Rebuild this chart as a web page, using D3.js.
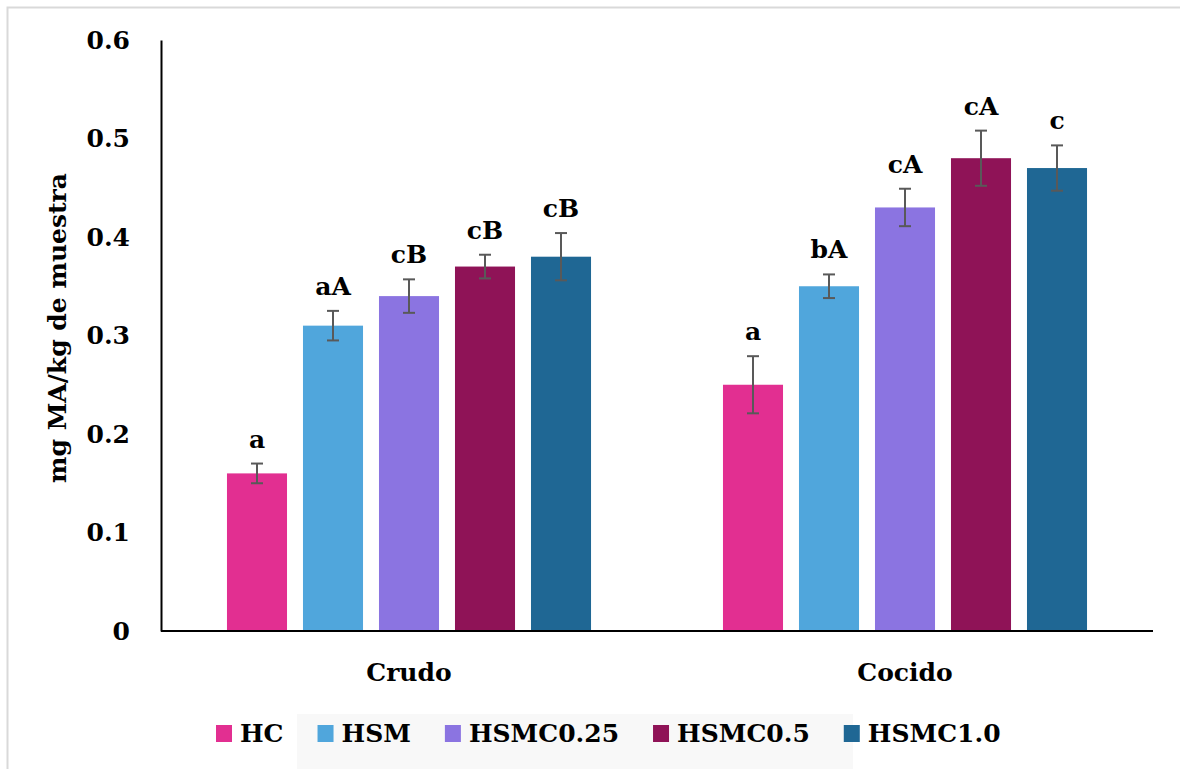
<!DOCTYPE html>
<html>
<head>
<meta charset="utf-8">
<script src="https://cdn.jsdelivr.net/npm/d3@7/dist/d3.min.js"></script>
<style>
  body { margin: 0; background: #fff; }
  svg { display: block; }
  text { font-family: "DejaVu Serif", serif; font-weight: bold; fill: #000; }
</style>
</head>
<body>
<svg id="chart" width="1180" height="769"></svg>
<script>
var categories = ["Crudo", "Cocido"];
var series = ["HC", "HSM", "HSMC0.25", "HSMC0.5", "HSMC1.0"];
var colours = ["#e22f91", "#50a6dc", "#8b74e1", "#8f1357", "#1f6794"];

// mean values per series, in category order (Crudo, Cocido)
var crudoValues = [0.16, 0.31, 0.34, 0.37, 0.38];
var cocidoValues = [0.25, 0.35, 0.43, 0.48, 0.47];
var crudoErrors = [0.010, 0.015, 0.017, 0.012, 0.024];
var cocidoErrors = [0.029, 0.012, 0.019, 0.028, 0.023];
var crudoLetters = ["a", "aA", "cB", "cB", "cB"];
var cocidoLetters = ["a", "bA", "cA", "cA", "c"];
var yTicks = [0, 0.1, 0.2, 0.3, 0.4, 0.5, 0.6];

var rows = [];
categories.forEach(function(cat, ci) {
  var vals = ci == 0 ? crudoValues : cocidoValues;
  var errs = ci == 0 ? crudoErrors : cocidoErrors;
  var lets = ci == 0 ? crudoLetters : cocidoLetters;
  series.forEach(function(s, si) {
    rows.push({cat: cat, key: s, value: vals[si], err: errs[si], letter: lets[si]});
  });
});

var svg = d3.select("#chart");

// light frame of the original figure
svg.append("path")
  .attr("d", "M7.5,769 V7.5 H1180")
  .attr("fill", "none")
  .attr("stroke", "#d9d9d9")
  .attr("stroke-width", 2);

// faint watermark patch behind the legend
svg.append("rect").attr("x", 297).attr("y", 714).attr("width", 556).attr("height", 55)
  .attr("fill", "#f8f8f8");

var plotLeft = 161, plotRight = 1153, plotTop = 40, plotBottom = 631;

var x = d3.scaleBand().domain(categories).range([plotLeft, plotRight]).padding(0);
var xs = d3.scaleBand().domain(series).range([0, x.bandwidth()])
  .paddingInner(0.21).paddingOuter(0.868);
var y = d3.scaleLinear().domain([0, 0.6]).range([plotBottom, plotTop]);
var color = d3.scaleOrdinal().domain(series).range(colours);

// y axis
var yAxis = svg.append("g")
  .attr("transform", "translate(" + plotLeft + ",0)")
  .call(d3.axisLeft(y).tickValues(yTicks).tickSize(0).tickPadding(31)
    .tickFormat(function(d) { return d == 0 ? "0" : d3.format(".1f")(d); }));
yAxis.select(".domain").attr("stroke", "#000").attr("stroke-width", 2);
yAxis.selectAll("text").style("font-size", "25px").style("font-family", "DejaVu Serif");

// bars
svg.selectAll("rect.bar")
  .data(rows)
  .enter()
  .append("rect")
  .attr("class", "bar")
  .attr("x", function(d) { return x(d.cat) + xs(d.key); })
  .attr("y", function(d) { return y(d.value); })
  .attr("width", xs.bandwidth())
  .attr("height", function(d) { return y(0) - y(d.value); })
  .attr("fill", function(d) { return color(d.key); });

// error bars
var eb = svg.selectAll("g.err")
  .data(rows)
  .enter()
  .append("g")
  .attr("class", "err")
  .attr("stroke", "#595959")
  .attr("stroke-width", 2);
eb.append("line")
  .attr("x1", function(d) { return x(d.cat) + xs(d.key) + xs.bandwidth() / 2; })
  .attr("x2", function(d) { return x(d.cat) + xs(d.key) + xs.bandwidth() / 2; })
  .attr("y1", function(d) { return y(d.value + d.err); })
  .attr("y2", function(d) { return y(d.value - d.err); });
[1, -1].forEach(function(sign) {
  eb.append("line")
    .attr("x1", function(d) { return x(d.cat) + xs(d.key) + xs.bandwidth() / 2 - 6; })
    .attr("x2", function(d) { return x(d.cat) + xs(d.key) + xs.bandwidth() / 2 + 6; })
    .attr("y1", function(d) { return y(d.value + sign * d.err); })
    .attr("y2", function(d) { return y(d.value + sign * d.err); });
});

// significance letters
svg.selectAll("text.letter")
  .data(rows)
  .enter()
  .append("text")
  .attr("class", "letter")
  .attr("x", function(d) { return x(d.cat) + xs(d.key) + xs.bandwidth() / 2; })
  .attr("y", function(d) { return y(d.value + d.err) - 16; })
  .attr("text-anchor", "middle")
  .style("font-size", "25px")
  .text(function(d) { return d.letter; });

// x axis line
svg.append("line")
  .attr("x1", plotLeft).attr("x2", plotRight)
  .attr("y1", plotBottom).attr("y2", plotBottom)
  .attr("stroke", "#000").attr("stroke-width", 2);

// category labels
svg.selectAll("text.cat")
  .data(categories)
  .enter()
  .append("text")
  .attr("class", "cat")
  .attr("x", function(d) { return x(d) + x.bandwidth() / 2; })
  .attr("y", 681)
  .attr("text-anchor", "middle")
  .style("font-size", "25px")
  .text(function(d) { return d; });

// y axis title
svg.append("text")
  .attr("transform", "translate(66,328) rotate(-90)")
  .attr("text-anchor", "middle")
  .style("font-size", "25px")
  .text("mg MA/kg de muestra");

// legend
var legend = svg.append("g").attr("transform", "translate(216,733)");
var lx = 0;
series.forEach(function(s) {
  var g = legend.append("g").attr("transform", "translate(" + lx + ",0)");
  g.append("rect").attr("x", 0).attr("y", -8).attr("width", 16).attr("height", 17)
    .attr("fill", color(s));
  var t = g.append("text").attr("x", 24).attr("y", 9).style("font-size", "25px").text(s);
  lx += 24 + t.node().getComputedTextLength() + 34;
});
</script>
</body>
</html>
